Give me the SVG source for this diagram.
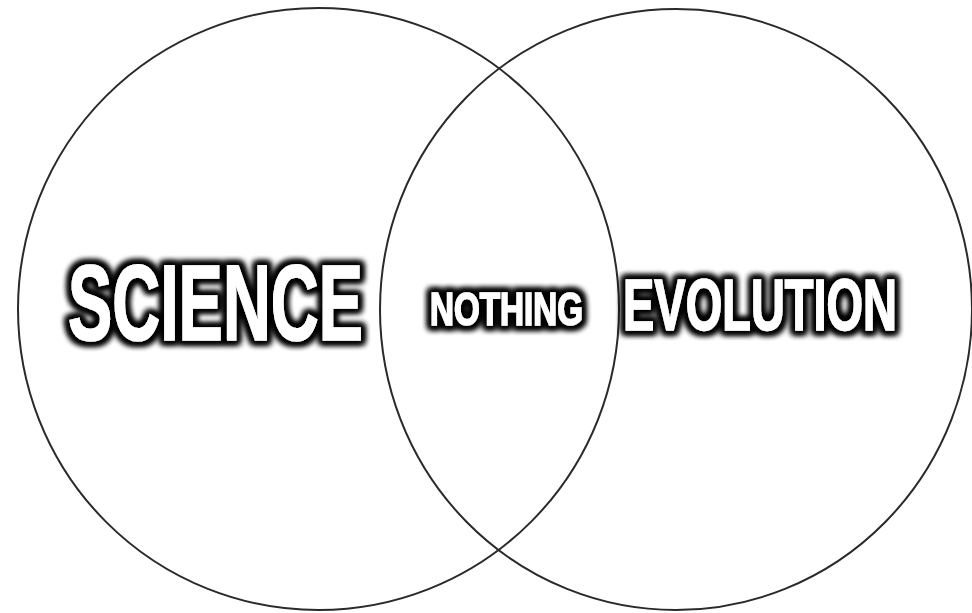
<svg xmlns="http://www.w3.org/2000/svg" width="972" height="613" viewBox="0 0 972 613">
<style>
.ring{fill:none;stroke:#2a2a2a;stroke-width:2}
.lbl{font-family:"Liberation Sans","DejaVu Sans",sans-serif;font-weight:bold;fill:#ffffff;stroke:#ffffff;stroke-width:1.5;stroke-linejoin:miter;filter:url(#glow)}
</style>
<defs>
<filter id="glow" x="-20%" y="-60%" width="140%" height="220%">
<feMorphology in="SourceAlpha" operator="dilate" radius="2.5" result="d"/>
<feGaussianBlur in="d" stdDeviation="3" result="b"/>
<feFlood flood-color="#000"/>
<feComposite in2="b" operator="in" result="s"/>
<feMerge><feMergeNode in="s"/><feMergeNode in="s"/><feMergeNode in="s"/><feMergeNode in="SourceGraphic"/></feMerge>
</filter>
</defs>
<rect width="972" height="613" fill="#fff"/>
<g id="science">
<ellipse class="ring" cx="318.5" cy="309" rx="300.5" ry="301"/>
<text class="lbl" x="68" y="340" font-size="107" textLength="295" lengthAdjust="spacingAndGlyphs">SCIENCE</text>
</g>
<g id="evolution">
<ellipse class="ring" cx="676" cy="309.5" rx="296" ry="300.5"/>
<text class="lbl" x="623" y="330" font-size="73" textLength="274" lengthAdjust="spacingAndGlyphs">EVOLUTION</text>
</g>
<g id="nothing">
<text class="lbl" x="430" y="325" font-size="46" textLength="153" lengthAdjust="spacingAndGlyphs">NOTHING</text>
</g>
<g id="connectors"/>
</svg>
